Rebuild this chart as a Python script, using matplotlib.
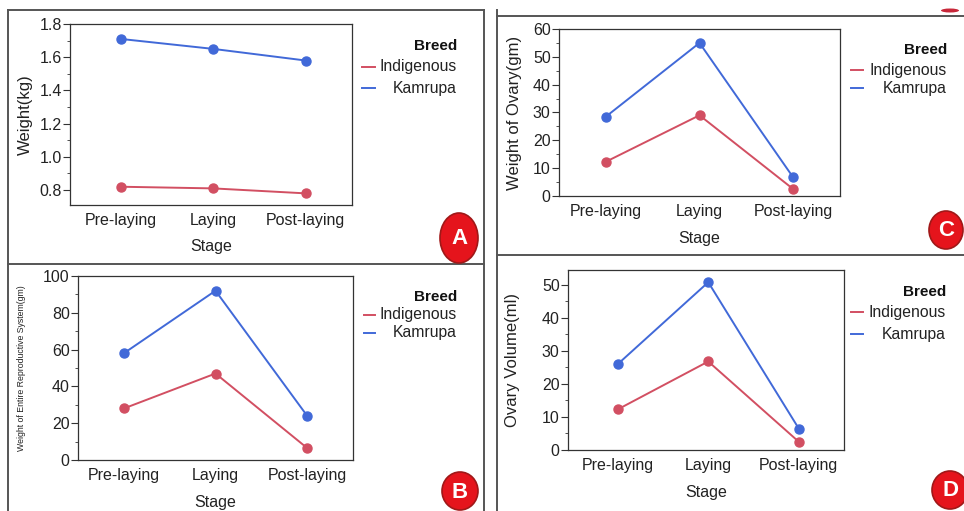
import numpy as np
import matplotlib
matplotlib.use("Agg")
import matplotlib.pyplot as plt
from matplotlib.patches import Ellipse
from matplotlib.lines import Line2D
from matplotlib.ticker import MultipleLocator

plt.rcParams['font.family'] = ['Liberation Sans', 'DejaVu Sans']

stages = ['Pre-laying', 'Laying', 'Post-laying']
breeds = ['Indigenous', 'Kamrupa']
colors = ['#d24f62', '#4169d8']

# panel A - body weight (kg)
weight_ind = [0.82, 0.81, 0.78]
weight_kam = [1.71, 1.65, 1.58]
# panel B - entire reproductive system (gm)
repro_ind = [28, 47, 6.5]
repro_kam = [58, 92, 24]
# panel C - ovary weight (gm)
ovary_w_ind = [12.3, 29, 2.5]
ovary_w_kam = [28.5, 55, 6.7]
# panel D - ovary volume (ml)
ovary_v_ind = [12.3, 26.8, 2.5]
ovary_v_kam = [26, 50.8, 6.5]

W, H = 964, 511
fig = plt.figure(figsize=(W / 100, H / 100), dpi=100)


def box(l, t, r, b):
    return [l / W, 1 - b / H, (r - l) / W, (b - t) / H]


panels = [
    # letter, data, box, ylim, yticks, minor, ylabel, ylabel size, ylabel x, xlim
    ('A', (weight_ind, weight_kam), (70, 24, 352, 205), (0.71, 1.8),
     np.arange(0.8, 1.81, 0.2), 0.1, 'Weight(kg)', 12, 25, (-0.55, 2.5)),
    ('B', (repro_ind, repro_kam), (78, 276, 353, 460), (0, 100),
     np.arange(0, 101, 20), 10, 'Weight of Entire Reproductive System(gm)', 6.3, 22, (-0.5, 2.5)),
    ('C', (ovary_w_ind, ovary_w_kam), (559, 29, 840, 196), (0, 60),
     np.arange(0, 61, 10), 5, 'Weight of Ovary(gm)', 12, 515, (-0.5, 2.5)),
    ('D', (ovary_v_ind, ovary_v_kam), (568, 270, 844, 450), (0, 54.5),
     np.arange(0, 51, 10), 5, 'Ovary Volume(ml)', 12, 513, (-0.55, 2.5)),
]

x = np.arange(len(stages))
for letter, series, (l, t, r, b), ylim, yt, mn, ylab, ylsize, ylx, xlim in panels:
    ax = fig.add_axes(box(l, t, r, b))
    for vals, c in zip(series, colors):
        ax.plot(x, vals, color=c, lw=1.4, marker='o', ms=6.5, zorder=3)
    ax.set_xlim(*xlim)
    ax.set_ylim(*ylim)
    ax.set_xticks(x)
    ax.set_xticklabels(stages)
    ax.set_yticks(yt)
    ax.yaxis.set_minor_locator(MultipleLocator(mn))
    ax.tick_params(axis='x', length=0, pad=6, labelsize=11.5, labelcolor='#222')
    ax.tick_params(axis='y', which='major', length=5, pad=1, labelsize=11.5,
                   labelcolor='#222', color='#333')
    ax.tick_params(axis='y', which='minor', length=2.5, color='#333')
    for s in ax.spines.values():
        s.set_color('#333')
        s.set_linewidth(0.9)
    ax.set_xlabel('Stage', fontsize=11.5, color='#222', va='center')
    ax.xaxis.set_label_coords(0.5, -(42.0 / (b - t)))
    ax.set_ylabel(ylab, fontsize=ylsize, color='#222', va='center')
    ax.yaxis.set_label_coords((ylx - l) / (r - l), 0.5)

# overlay in pixel coordinates for frames, legends and badges
ov = fig.add_axes([0, 0, 1, 1], zorder=10)
ov.set_xlim(0, W)
ov.set_ylim(H, 0)
ov.axis('off')

fc = '#555555'
frame_lines = [
    ((8, 8), (10, 511)), ((8, 484), (10, 10)), ((484, 484), (10, 511)),
    ((8, 484), (264, 264)),
    ((497, 497), (10, 511)), ((497, 964), (16, 16)), ((497, 964), (255, 255)),
]
for xs, ys in frame_lines:
    ov.add_line(Line2D(xs, ys, color=fc, lw=1.4))

legends = [
    # right x, breed y, row ys, handle x0, x1
    (457, 46, (67, 88), 362, 375),
    (457, 297, (315, 333), 364, 375),
    (947, 50, (70, 88), 851, 863),
    (946, 292, (312, 334), 851, 863),
]
for rx, by, rows, hx0, hx1 in legends:
    ov.text(rx, by, 'Breed', ha='right', va='center', fontsize=11,
            fontweight='bold', color='#111')
    for name, c, ry in zip(breeds, colors, rows):
        ov.add_line(Line2D((hx0, hx1), (ry, ry), color=c, lw=1.4))
        ov.text(rx, ry, name, ha='right', va='center', fontsize=11.3, color='#222')

badges = [('A', 459, 238, 38, 50), ('B', 460, 491, 36, 38),
          ('C', 946, 230, 34, 38), ('D', 950, 490, 36, 38)]
for letter, cx, cy, bw, bh in badges:
    ov.add_patch(Ellipse((cx, cy), bw, bh, facecolor='#e5141c',
                         edgecolor='#a01818', lw=1.2, zorder=5))
    ov.text(cx, cy + 1, letter, ha='center', va='center', fontsize=16,
            fontweight='bold', color='white', zorder=6)
# sliver of a cut-off badge above panel C
ov.add_patch(Ellipse((950, 10.5), 18, 4, facecolor='#c8283a',
                     edgecolor='none', zorder=5))

fig.savefig('out.png', dpi=100)
